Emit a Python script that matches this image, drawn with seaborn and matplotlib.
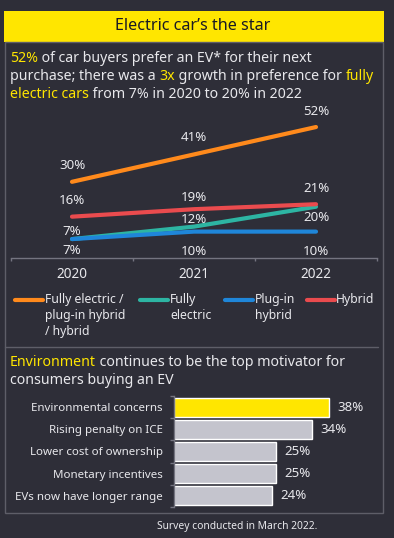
import numpy as np
import pandas as pd
import matplotlib
matplotlib.use("Agg")
import matplotlib.pyplot as plt
from matplotlib.patches import Rectangle
from matplotlib.lines import Line2D
import seaborn as sns

# ---------------- data ----------------
years = ["2020", "2021", "2022"]
total_ev = [30, 41, 52]          # Fully electric / plug-in hybrid / hybrid
fully_electric = [7, 12, 20]
plug_in_hybrid = [7, 10, 10]
hybrid = [16, 19, 21]
series_names = ["Fully electric /\nplug-in hybrid\n/ hybrid", "Fully\nelectric", "Plug-in\nhybrid", "Hybrid"]

motivators = ["Environmental concerns", "Rising penalty on ICE", "Lower cost of ownership",
              "Monetary incentives", "EVs now have longer range"]
shares = [38, 34, 25, 25, 24]

# ---------------- style ----------------
W, H = 394, 538
BG = "#2e2e38"
YELLOW = "#ffe600"
TXT = "#e8e8ec"
GRID = "#747480"
BARGRAY = "#c4c4cd"
line_colors = ["#ff8a1c", "#2db5a3", "#1f86d9", "#ea4b4e"]

sns.set_theme(style="dark")
FONT = "Noto Sans"
plt.rcParams["font.family"] = [FONT, "DejaVu Sans"]

fig = plt.figure(figsize=(W / 100, H / 100), dpi=100, facecolor=BG)


def fx(x):
    return x / W


def fy(y):
    return 1 - y / H


# header band and panel frame
fig.add_artist(Rectangle((fx(4), fy(42)), (380) / W, 31 / H, transform=fig.transFigure,
                         facecolor=YELLOW, edgecolor="none"))
fig.text(fx(193), fy(26.5), "Electric car\u2019s the star", ha="center", va="center",
         fontsize=11.6, color="#1a1a24")
fig.add_artist(Rectangle((fx(4.5), fy(513)), 378.5 / W, (513 - 42) / H, transform=fig.transFigure,
                         facecolor="none", edgecolor="#5e5e68", linewidth=1.0))
fig.add_artist(Line2D([fx(5), fx(378)], [fy(347), fy(347)], transform=fig.transFigure,
                      color="#5e5e68", linewidth=1.0))

renderer = fig.canvas.get_renderer()


def rich_line(x, y, parts, size):
    for s, c in parts:
        t = fig.text(fx(x), fy(y), s, color=c, fontsize=size, ha="left", va="baseline")
        bb = t.get_window_extent(renderer)
        x += bb.width


TS = 10.2
rich_line(10, 62.5, [("52%", YELLOW), (" of car buyers prefer an EV* for their next", TXT)], TS)
rich_line(10, 80.5, [("purchase; there was a ", TXT), ("3x", YELLOW),
                     (" growth in preference for ", TXT), ("fully", YELLOW)], TS)
rich_line(10, 98.5, [("electric cars", YELLOW), (" from 7% in 2020 to 20% in 2022", TXT)], TS)

rich_line(10, 366.5, [("Environment", YELLOW), (" continues to be the top motivator for", TXT)], TS)
rich_line(10, 384, [("consumers buying an EV", TXT)], TS)

fig.text(fx(237), fy(527), "Survey conducted in March 2022.", ha="center", va="center",
         fontsize=7.4, color=TXT)

# ---------------- line chart ----------------
df = pd.DataFrame({
    "year": years * 4,
    "value": total_ev + fully_electric + plug_in_hybrid + hybrid,
    "series": sum([[n] * len(years) for n in series_names], []),
})

ax1 = fig.add_axes([fx(11), fy(258), 366 / W, 148.4 / H])
ax1.set_facecolor("none")
sns.lineplot(data=df, x="year", y="value", hue="series", hue_order=series_names,
             palette=line_colors, linewidth=3.0, legend=False, ax=ax1, sort=False)
ax1.set_xlim(-0.5, 2.5)
ax1.set_ylim(-0.6, 59)
ax1.set_xlabel("")
ax1.set_ylabel("")
ax1.set_yticks([])
for side in ["top", "right", "left"]:
    ax1.spines[side].set_visible(False)
ax1.spines["bottom"].set_visible(True)
ax1.spines["bottom"].set_color(GRID)
ax1.spines["bottom"].set_linewidth(1.0)
ax1.set_xticks([0, 1, 2])
ax1.set_xticklabels(years)
ax1.set_xticks([-0.5, 0.5, 1.5, 2.5], minor=True)
ax1.tick_params(axis="x", which="major", length=0, pad=6.5, labelsize=9.8, labelcolor=TXT)
ax1.tick_params(axis="x", which="minor", length=2.5, width=1.0, color=GRID, direction="out",
                bottom=True)
ax1.grid(False)

offsets_px = [[16, 17, 16], [8, 7.5, -11], [-11, -20, -20], [16, 12, 16]]
for vals, offs in zip([total_ev, fully_electric, plug_in_hybrid, hybrid], offsets_px):
    for i, (v, o) in enumerate(zip(vals, offs)):
        ax1.annotate(f"{v}%", xy=(i, v), xytext=(0, o * 72 / 100), textcoords="offset points",
                     ha="center", va="center", fontsize=9.6, color=TXT)

# manual legend (handles aligned with first text line)
leg_handles = [(15, 43, 45), (140, 168, 170), (225, 253, 255), (307, 335, 336)]
for (x0, x1, xt), name, col in zip(leg_handles, series_names, line_colors):
    fig.add_artist(Line2D([fx(x0), fx(x1)], [fy(300), fy(300)], transform=fig.transFigure,
                          color=col, linewidth=3.0, solid_capstyle="round"))
    for k, ln in enumerate(name.split("\n")):
        fig.text(fx(xt), fy(300 + 15.5 * k), ln, ha="left", va="center", fontsize=8.8, color=TXT)

# ---------------- bar chart ----------------
ax2 = fig.add_axes([fx(174), fy(507), 203.5 / W, 111 / H])
ax2.set_facecolor("none")
bar_pal = [YELLOW] + [BARGRAY] * (len(motivators) - 1)
sns.barplot(x=shares, y=motivators, hue=motivators, palette=bar_pal, legend=False,
            width=0.86, ax=ax2, saturation=1)
ax2.set_xlim(0, 50)
ax2.set_ylim(len(motivators) - 0.5, -0.5)
ax2.set_xticks([])
ax2.set_xlabel("")
ax2.set_ylabel("")
for side in ["top", "right", "bottom"]:
    ax2.spines[side].set_visible(False)
ax2.spines["left"].set_visible(True)
ax2.spines["left"].set_color(GRID)
ax2.spines["left"].set_linewidth(1.0)
ax2.set_yticks(np.arange(-0.5, len(motivators)), minor=True)
ax2.tick_params(axis="y", which="major", length=0, pad=8, labelsize=8.3, labelcolor=TXT)
ax2.tick_params(axis="y", which="minor", length=3, width=1.0, color=GRID, direction="out",
                left=True)
ax2.grid(False)
for cont in ax2.containers:
    ax2.bar_label(cont, fmt="%d%%", padding=6, fontsize=9.6, color=TXT)

fig.savefig("out.png", dpi=100, facecolor=BG)
